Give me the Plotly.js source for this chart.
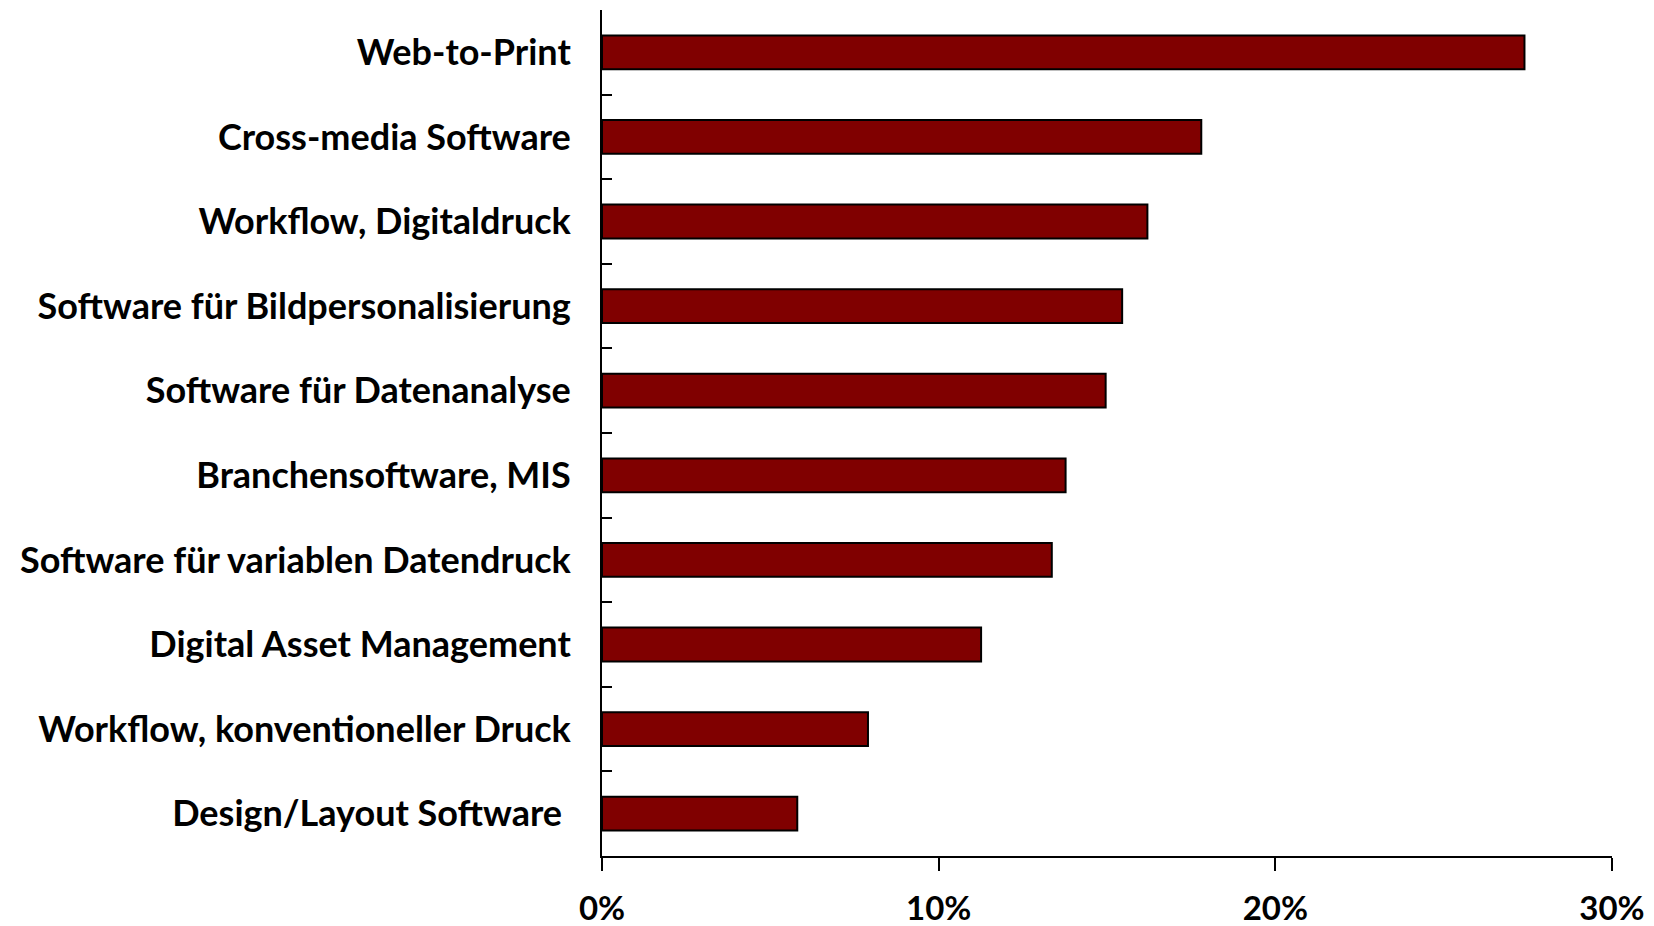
<!DOCTYPE html>
<html>
<head>
<meta charset="utf-8">
<script src="https://cdn.plot.ly/plotly-3.0.1.min.js"></script>
<style>html,body{margin:0;padding:0;background:#fff}#chart{width:1654px;height:926px}</style>
</head>
<body>
<div id="chart"></div>
<script>
const categories = [
  "Web-to-Print",
  "Cross-media Software",
  "Workflow, Digitaldruck",
  "Software für Bildpersonalisierung",
  "Software für Datenanalyse",
  "Branchensoftware, MIS",
  "Software für variablen Datendruck",
  "Digital Asset Management",
  "Workflow, konventioneller Druck",
  "Design/Layout Software\u00a0"
];
const values = [27.4, 17.8, 16.2, 15.45, 14.96, 13.77, 13.36, 11.26, 7.9, 5.8];
const xTickVals = [0, 10, 20, 30];
const xTickText = ["0%", "10%", "20%", "30%"];

const trace = {
  type: "bar",
  orientation: "h",
  y: categories,
  x: values,
  marker: {color: "#800000", line: {color: "#000000", width: 2}},
  hoverinfo: "x+y"
};

const layout = {
  width: 1654, height: 926,
  margin: {l: 602, r: 42, t: 10, b: 70},
  paper_bgcolor: "#ffffff", plot_bgcolor: "#ffffff",
  showlegend: false,
  bargap: 0.6,
  font: {family: "Lato, 'Open Sans', sans-serif", color: "#000000"},
  xaxis: {
    range: [0, 30],
    tickvals: xTickVals, ticktext: xTickText,
    showgrid: false, zeroline: false,
    showline: true, linecolor: "#000000", linewidth: 2,
    ticks: "outside", ticklen: 13, tickwidth: 2, tickcolor: "#000000",
    tickfont: {size: 33, family: "Lato", weight: "bold"},
    ticklabelstandoff: 9
  },
  yaxis: {
    autorange: "reversed",
    type: "category",
    showgrid: false, zeroline: false,
    showline: true, linecolor: "#000000", linewidth: 2,
    ticks: "inside", tickson: "boundaries", ticklen: 10, tickwidth: 2, tickcolor: "#000000",
    tickfont: {size: 36, family: "Lato", weight: "bold"},
    ticklabelstandoff: 22
  }
};

Plotly.newPlot("chart", [trace], layout, {displayModeBar: false, staticPlot: true});
</script>
</body>
</html>
